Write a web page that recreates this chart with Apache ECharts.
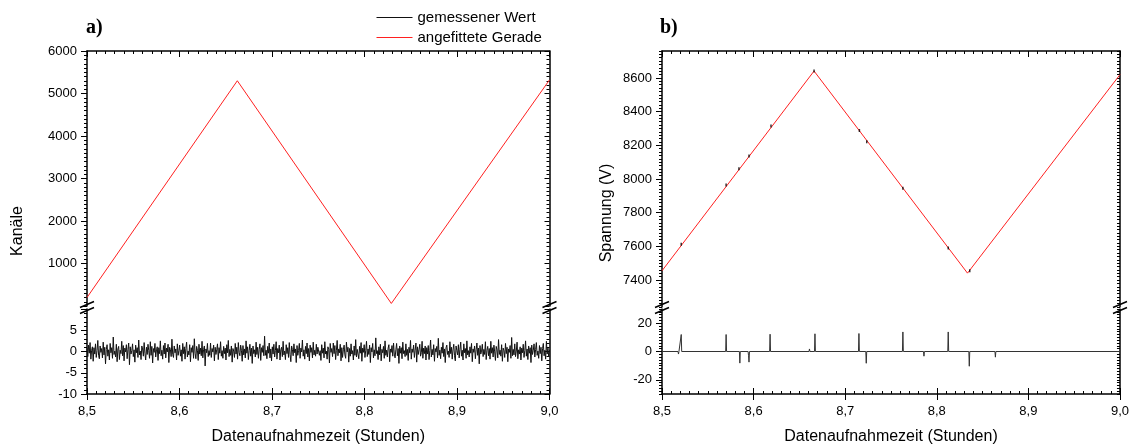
<!DOCTYPE html>
<html>
<head>
<meta charset="utf-8">
<script src="https://cdn.jsdelivr.net/npm/echarts@6/dist/echarts.min.js"></script>
<style>
	html, body { margin: 0; background: #fff; }
	#main { width: 1132px; height: 448px; }
</style>
</head>
<body>
<div id="main"></div>
<script>
// ---- Daten ----
var xTickLabels = ['8,5', '8,6', '8,7', '8,8', '8,9', '9,0'];

// a) Kanäle: angefittete Gerade
var fitLeftTime = [8.5, 8.6625, 8.829, 9.0];
var fitLeftValue = [200, 5300, 60, 5320];

// a) Residuum (gemessener Wert - Gerade), gleichmäßig von 8,5 bis 9,0
var noiseStart = 8.5;
var noiseEnd = 9.0;
var noiseValue = [
	0.8,-1.2,1.5,-0.4,2.1,-1.8,0.3,1.1,-2.3,0.9,-0.6,1.8,-1.4,0.2,2.6,-0.9,-1.7,1.3,-0.2,0.7,
	-1.5,2.2,-0.8,1.0,-2.9,0.5,1.6,-1.1,0.4,-2.0,1.9,-0.3,0.9,-1.6,3.4,-0.7,0.1,-1.3,1.7,-2.4,
	0.6,1.2,-1.9,0.3,-0.5,2.4,-1.0,1.4,-2.2,0.8,-0.1,1.6,-1.7,0.5,2.0,-3.1,1.1,-0.6,0.2,1.8,
	-1.2,0.4,-2.5,1.5,-0.3,0.9,-1.4,2.7,-0.8,0.1,-1.9,1.3,0.6,-1.1,2.1,-0.4,-2.0,1.0,-0.7,1.7,
	0.2,-1.6,2.3,-0.9,1.2,-2.7,0.7,-0.2,1.9,-1.3,0.4,1.1,-2.1,0.9,-0.5,2.5,-1.0,0.3,-1.8,1.4,
	-0.6,2.0,-1.5,0.8,-0.1,1.7,-2.6,1.0,0.5,-1.2,2.9,-0.7,-1.4,1.3,-0.3,0.6,-2.0,1.8,-0.9,0.2,
	1.5,-1.1,0.4,-2.3,1.9,-0.5,1.1,-1.8,0.7,2.2,-1.3,0.1,-0.8,1.6,-2.4,0.9,-0.2,1.4,-1.6,3.0,
	-0.4,-1.7,1.2,0.3,-2.1,1.7,-0.6,0.8,-1.0,2.4,-1.5,0.5,1.3,-3.4,0.6,-0.3,1.9,-1.2,0.2,-0.9,
	2.0,-1.4,0.7,-0.1,1.5,-2.2,1.0,-0.7,0.4,1.8,-1.9,0.9,-0.4,2.3,-1.1,0.2,-1.6,1.2,-0.5,0.8,
	-2.0,1.6,-0.3,2.6,-1.2,0.5,-0.9,1.3,-2.5,0.7,0.1,-1.4,1.9,-0.6,1.0,-1.8,2.1,-0.2,-1.0,1.5,
	0.3,-2.3,1.4,-0.8,0.6,-1.5,2.5,-0.4,1.1,-1.9,0.2,1.7,-1.1,0.8,-2.8,1.3,-0.5,0.4,-1.3,2.2,
	-0.7,1.0,-1.6,0.5,1.8,-2.1,0.9,-0.2,1.4,-1.0,3.6,-0.9,0.3,-1.7,1.2,-0.4,2.0,-1.5,0.6,-2.2,
	1.1,-0.6,1.7,-1.3,0.2,2.3,-1.8,0.7,-0.3,1.5,-2.0,0.4,1.0,-1.2,2.4,-0.8,0.1,-1.9,1.6,-0.5,
	0.9,-1.4,2.1,-0.7,-2.4,1.3,0.5,-1.0,1.8,-0.3,0.6,-2.6,1.4,-0.9,0.2,1.9,-1.6,0.8,-0.1,2.7,
	-1.1,0.4,-1.8,1.2,-0.5,2.0,-1.3,0.7,-2.2,1.5,-0.2,0.9,-1.5,2.2,-0.8,0.3,-1.1,1.7,-0.6,1.0,
	1.3,-0.9,0.2,-2.1,1.6,-0.4,0.8,-1.5,2.3,-0.6,0.1,-1.8,1.1,0.5,-2.7,1.9,-0.2,0.7,-1.2,2.0,
	-0.5,1.4,-1.9,0.3,2.6,-1.0,0.6,-0.3,1.7,-2.2,0.9,-1.4,0.4,1.5,-0.8,-1.6,2.2,-0.1,1.0,-2.5,
	0.7,-1.1,1.8,-0.6,0.2,-2.0,1.3,-0.9,2.8,-1.3,0.5,0.1,-1.7,1.2,-0.4,2.1,-2.3,0.8,-0.2,1.6,
	-1.4,0.3,2.4,-1.2,0.6,-0.7,1.5,-2.6,0.9,-0.1,1.9,-1.5,0.4,-1.0,3.2,-0.5,0.2,-1.9,1.1,-0.8,
	1.7,-2.2,0.5,-0.3,1.2,-1.6,2.5,-0.9,0.3,-1.3,0.8,1.6,-2.4,0.6,-0.2,1.4,-1.1,2.0,-0.6,-1.5,
	0.4,1.9,-1.0,0.7,-2.8,1.3,-0.4,0.9,-1.7,2.2,-0.5,0.2,-1.2,1.8,-0.9,0.5,-2.1,1.0,-0.3,2.6,
	-1.8,0.6,-0.2,1.5,-1.4,0.3,2.0,-2.5,1.1,-0.7,0.4,1.7,-1.1,-0.3,2.4,-1.6,0.8,-0.5,1.3,-2.0,
	0.9,-0.6,1.4,-1.9,0.2,2.7,-1.3,0.5,-0.8,1.6,-2.3,0.7,-0.1,1.2,-1.5,3.1,-0.9,0.3,-1.7,1.0,
	-0.4,2.1,-1.2,0.6,-2.6,0.9,1.5,-0.7,0.1,-1.4,2.3,-0.5,1.0,-1.8,0.4,1.7,-1.0,-2.2,1.3,0.2,
	-0.8,1.6,-1.5,0.5,2.2,-1.1,0.3,-2.0,1.8,-0.3,0.7,-1.6,2.5,-0.8,0.2,-1.3,1.1,-0.4,1.9,-2.4,
	0.6,-0.2,1.3,-1.7,0.4,2.0,-0.9,0.8,-2.9,1.4,-0.6,0.1,1.7,-1.2,0.5,-0.7,2.3,-1.9,0.3,1.2,
	-1.0,0.7,-1.8,2.4,-0.4,0.9,-1.3,1.5,-0.1,-2.1,1.2,0.4,-1.5,2.8,-0.7,0.3,-1.1,1.6,-2.3,0.8,
	0.2,-1.4,1.9,-0.5,1.0,-2.4,0.6,-0.2,1.4,-1.6,3.3,-1.0,0.5,-0.8,1.8,-1.2,0.1,2.2,-1.7,0.4,
	-0.6,1.1,-2.0,0.8,-0.3,1.7,-1.4,0.2,2.5,-1.1,0.6,-1.9,1.3,-0.4,0.9,-2.6,1.5,-0.7,0.3,1.8,
	-1.3,0.5,2.1,-0.9,0.1,-1.6,1.4,-0.5,1.0,-2.2,0.7,1.9,-1.0,0.3,-1.8,2.4,-0.6,0.8,-1.2,0.4
];

// b) Spannung: angefittete Gerade
var fitRightTime = [8.5, 8.666, 8.8335, 9.0];
var fitRightValue = [7455, 8641, 7441, 8620];
var rightUpperTicks = [7400, 7600, 7800, 8000, 8200, 8400, 8600];

// b) sichtbare Messpunkte neben der Geraden
var measRightTime = [8.521, 8.570, 8.584, 8.595, 8.619, 8.666, 8.7155, 8.7235, 8.763, 8.8125, 8.836];
var measRightValue = [7612, 7965, 8061, 8136, 8314, 8641, 8288, 8221, 7945, 7590, 7455];

// b) Residuum
var resTime = [8.5,
	8.5175, 8.518, 8.5185,
	8.5205, 8.521, 8.5215,
	8.5695, 8.570, 8.5705,
	8.5845, 8.585, 8.5855,
	8.594, 8.5945, 8.595, 8.5955,
	8.6175, 8.618, 8.6185,
	8.6605, 8.661, 8.6615,
	8.6665, 8.667, 8.6675,
	8.7145, 8.715, 8.7155,
	8.7225, 8.723, 8.7235,
	8.7625, 8.763, 8.7635,
	8.7855, 8.786, 8.7865,
	8.812, 8.8125, 8.813,
	8.835, 8.8355, 8.836,
	8.8635, 8.864, 8.8645,
	9.0];
var resValue = [0,
	0, -1.8, 0,
	0, 12, 0,
	0, 12, 0,
	0, -8.2, 0,
	0, -3, -7.5, 0,
	0, 12.2, 0,
	0, 1.8, 0,
	0, 12.5, 0,
	0, 12.7, 0,
	0, -8.3, 0,
	0, 13.8, 0,
	0, -3.3, 0,
	0, 13.8, 0,
	0, -10.4, 0,
	0, -4, 0,
	0];
var rightLowerTicks = [-20, 0, 20];

// ---- Hilfen ----
function pairs(xs, ys)
{
	var out = [];
	for (var i = 0; i < ys.length; i++) out.push([xs[i], ys[i]]);
	return out;
}

function noisePairs()
{
	var step = (noiseEnd - noiseStart) / (noiseValue.length - 1);
	var out = [];
	for (var i = 0; i < noiseValue.length; i++) out.push([noiseStart + i * step, noiseValue[i]]);
	return out;
}

var FONT = '"Liberation Sans", Arial, sans-serif';
var black = '#000';
var plain = function(v) { return String(v); };

function ax(o)
{
	var base =
	{
		type: 'value',
		splitLine: { show: false },
		axisLine: { show: true, onZero: false, lineStyle: { color: black, width: 1.5 } },
		axisTick: { show: true, inside: false, length: 6, lineStyle: { color: black, width: 1 } },
		minorTick: { show: false, length: 3, lineStyle: { color: black, width: 1 } },
		axisLabel: { show: false, color: black, fontSize: 13, fontFamily: FONT, margin: 10, formatter: plain },
		axisPointer: { show: false }
	};
	for (var k in o)
	{
		if (base[k] && typeof base[k] === 'object' && !Array.isArray(base[k]))
			base[k] = Object.assign({}, base[k], o[k]);
		else
			base[k] = o[k];
	}
	return base;
}

var xRange = { min: 8.5, max: 9.0, interval: 0.1 };
function xTop(g)
{
	return ax(Object.assign({ gridIndex: g, position: 'top',
		axisTick: { inside: true, length: 6 },
		minorTick: { show: true, splitNumber: 10 } }, xRange));
}
function xBottom(g)
{
	return ax(Object.assign({ gridIndex: g, position: 'bottom',
		axisTick: { length: 6 },
		axisLabel: { show: true, margin: 11, formatter: function(v, i) { return xTickLabels[i]; } },
		name: 'Datenaufnahmezeit (Stunden)', nameLocation: 'middle', nameGap: 35,
		nameTextStyle: { color: black, fontSize: 16, fontFamily: FONT } }, xRange));
}
function xBottomInner(g)
{
	return ax(Object.assign({ gridIndex: g, position: 'bottom',
		axisLine: { show: false },
		axisTick: { inside: true, length: 6 },
		minorTick: { show: true, splitNumber: 10 } }, xRange));
}

var grids =
[
	{ left: 87, top: 51, width: 462.5, height: 255 },
	{ left: 87, top: 309, width: 462.5, height: 85 },
	{ left: 662, top: 51, width: 458, height: 256 },
	{ left: 662, top: 309, width: 458, height: 85 }
];

var xAxes = [ xTop(0), xBottom(1), xBottomInner(1), xTop(2), xBottom(3), xBottomInner(3) ];

var yAxes =
[
	// 0: a) oben links
	ax({ gridIndex: 0, position: 'left', min: 0, max: 6000, interval: 1000,
		minorTick: { show: true, splitNumber: 10 },
		axisLabel: { show: true, showMinLabel: false } }),
	// 1: a) oben rechts
	ax({ gridIndex: 0, position: 'right', min: 0, max: 6000, interval: 1000,
		axisTick: { inside: true, length: 5 }, minorTick: { show: true, splitNumber: 10 } }),
	// 2: a) unten links
	ax({ gridIndex: 1, position: 'left', min: -10, max: 10, interval: 5,
		minorTick: { show: true, splitNumber: 5 },
		axisLabel: { show: true, showMaxLabel: false } }),
	// 3: a) unten rechts
	ax({ gridIndex: 1, position: 'right', min: -10, max: 10, interval: 5,
		axisTick: { inside: true, length: 5 }, minorTick: { show: true, splitNumber: 5 } }),
	// 4: b) oben links, Beschriftung
	ax({ gridIndex: 2, position: 'left', min: 7240, max: 8760,
		axisTick: { customValues: rightUpperTicks },
		axisLabel: { show: true, customValues: rightUpperTicks } }),
	// 5: b) oben links, Nebenstriche
	ax({ gridIndex: 2, position: 'left', min: 7240, max: 8760, interval: 20,
		axisLine: { show: false }, axisTick: { length: 3 } }),
	// 6: b) oben rechts
	ax({ gridIndex: 2, position: 'right', min: 7240, max: 8760, interval: 20,
		axisTick: { inside: true, length: 3 } }),
	// 7: b) unten links, Beschriftung
	ax({ gridIndex: 3, position: 'left', min: -30, max: 30,
		axisTick: { customValues: rightLowerTicks },
		axisLabel: { show: true, customValues: rightLowerTicks } }),
	// 8: b) unten links, Nebenstriche
	ax({ gridIndex: 3, position: 'left', min: -30, max: 30, interval: 2,
		axisLine: { show: false }, axisTick: { length: 3 } }),
	// 9: b) unten rechts
	ax({ gridIndex: 3, position: 'right', min: -30, max: 30, interval: 2,
		axisTick: { inside: true, length: 3 } })
];

// Achsenbruch-Zeichen
var breakX = [87, 549.5, 662, 1120];
var graphics = [];
breakX.forEach(function(bx)
{
	[304.5, 310.5].forEach(function(by)
	{
		graphics.push({ type: 'line', silent: true, z: 100,
			shape: { x1: bx - 7, y1: by + 3, x2: bx + 7, y2: by - 3 },
			style: { stroke: black, lineWidth: 1.5 } });
	});
});
graphics.push(
	{ type: 'text', left: 86, top: 18, style: { text: 'a)', font: 'bold 20px "Liberation Serif", serif', fill: black } },
	{ type: 'text', left: 660, top: 18, style: { text: 'b)', font: 'bold 20px "Liberation Serif", serif', fill: black } },
	{ type: 'text', x: 18, y: 231, rotation: Math.PI / 2,
		style: { text: 'Kanäle', font: '16px ' + FONT, fill: black, align: 'center', verticalAlign: 'middle' } },
	{ type: 'text', x: 607, y: 213, rotation: Math.PI / 2,
		style: { text: 'Spannung (V)', font: '16px ' + FONT, fill: black, align: 'center', verticalAlign: 'middle' } }
);

var hidden = { color: 'rgba(0,0,0,0)', borderWidth: 0, opacity: 0 };

var options =
{
	animation: false,
	backgroundColor: '#fff',
	legend:
	{
		orient: 'vertical',
		left: 371,
		top: 5,
		itemWidth: 36,
		itemHeight: 14,
		itemGap: 5,
		textStyle: { color: black, fontSize: 15, fontFamily: FONT },
		lineStyle: { width: 1 },
		data:
		[
			{ name: 'gemessener Wert', itemStyle: hidden },
			{ name: 'angefittete Gerade', itemStyle: hidden }
		]
	},
	grid: grids,
	xAxis: xAxes,
	yAxis: yAxes,
	graphic: { elements: graphics },
	series:
	[
		{ name: 'gemessener Wert', type: 'line', xAxisIndex: 1, yAxisIndex: 2, symbol: 'none',
			lineStyle: { color: '#111', width: 1 }, itemStyle: { color: '#111' },
			data: noisePairs() },
		{ name: 'angefittete Gerade', type: 'line', xAxisIndex: 0, yAxisIndex: 0, symbol: 'none',
			lineStyle: { color: '#ff2020', width: 1 }, itemStyle: { color: '#ff2020' },
			data: pairs(fitLeftTime, fitLeftValue) },
		{ name: 'angefittete Gerade', type: 'line', xAxisIndex: 3, yAxisIndex: 4, symbol: 'none',
			lineStyle: { color: '#ff2020', width: 1 }, itemStyle: { color: '#ff2020' },
			data: pairs(fitRightTime, fitRightValue) },
		{ name: 'gemessener Wert', type: 'scatter', xAxisIndex: 3, yAxisIndex: 4, z: 5,
			symbol: 'rect', symbolSize: [1.5, 3], itemStyle: { color: '#000' },
			data: pairs(measRightTime, measRightValue) },
		{ name: 'gemessener Wert', type: 'line', xAxisIndex: 4, yAxisIndex: 7, symbol: 'none',
			lineStyle: { color: '#333', width: 1 }, itemStyle: { color: '#000' },
			data: pairs(resTime, resValue) }
	]
};

var chart = echarts.init(document.getElementById('main'));
chart.setOption(options);
</script>
</body>
</html>
